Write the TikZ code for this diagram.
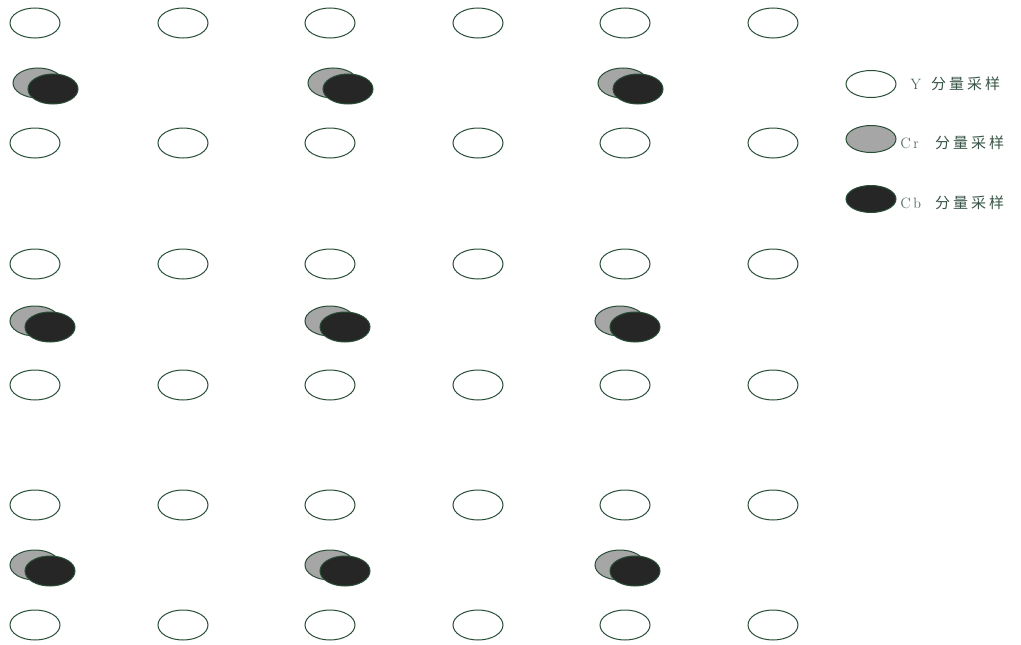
\documentclass[tikz,border=0pt]{standalone}
\usepackage{fontspec}
\newfontfamily\cjk[LetterSpace=20]{Noto Sans CJK SC}
\newfontfamily\lat[LetterSpace=18]{Latin Modern Roman}
\usetikzlibrary{shapes.geometric,positioning}
\definecolor{rim}{RGB}{40,78,55}
\definecolor{crgray}{RGB}{166,166,166}
\definecolor{cbdark}{RGB}{38,38,38}
\definecolor{legtext}{RGB}{55,85,70}

\begin{document}
\begin{tikzpicture}[x=1pt,y=-1pt,
    samp/.style={ellipse,draw=rim,line width=1pt,minimum width=50pt,minimum height=30pt,inner sep=0pt},
    ysamp/.style={samp,fill=white},
    crsamp/.style={samp,fill=crgray},
    cbsamp/.style={samp,fill=cbdark},
    legsamp/.style={minimum height=27pt},
    legend/.style={inner sep=0pt,anchor=west,text=legtext,font=\fontsize{15}{17}\selectfont}]
    \useasboundingbox (0,0) rectangle (1021,645);
    \foreach \r/\yy in {1/23,2/143,3/264,4/385,5/505,6/625}
      \foreach \c/\xx in {1/35,2/183,3/330,4/478,5/625,6/773}
        \node[ysamp] (y\r\c) at (\xx,\yy) {};
    \foreach \r/\yy/\xa/\xb/\xc in {1/83/38/333/623,2/321/35/330/620,3/565/35/330/620}
      \foreach \k/\xx in {1/\xa,2/\xb,3/\xc} {
        \node[crsamp] (cr\r\k) at (\xx,\yy) {};
        \node[cbsamp] (cb\r\k) at (\xx+15,\yy+6) {};
      }
    \node[ysamp,legsamp] (legy) at (871,84) {};
    \node[crsamp,legsamp] (legcr) at (871,139) {};
    \node[cbsamp,legsamp] (legcb) at (871,199) {};
    \node[legend,right=14pt of legy] (ly) {\lat Y};
    \node[legend,right=4pt of legcr.east,yshift=-4pt] (lcr) {\lat Cr};
    \node[legend,right=4pt of legcb.east,yshift=-4pt] (lcb) {\lat Cb};
    \node[legend] (tyy) at (931,84) {\cjk 分量采样};
    \node[legend] (tcr) at (935,143) {\cjk 分量采样};
    \node[legend] (tcb) at (935,203) {\cjk 分量采样};
\end{tikzpicture}
\end{document}
